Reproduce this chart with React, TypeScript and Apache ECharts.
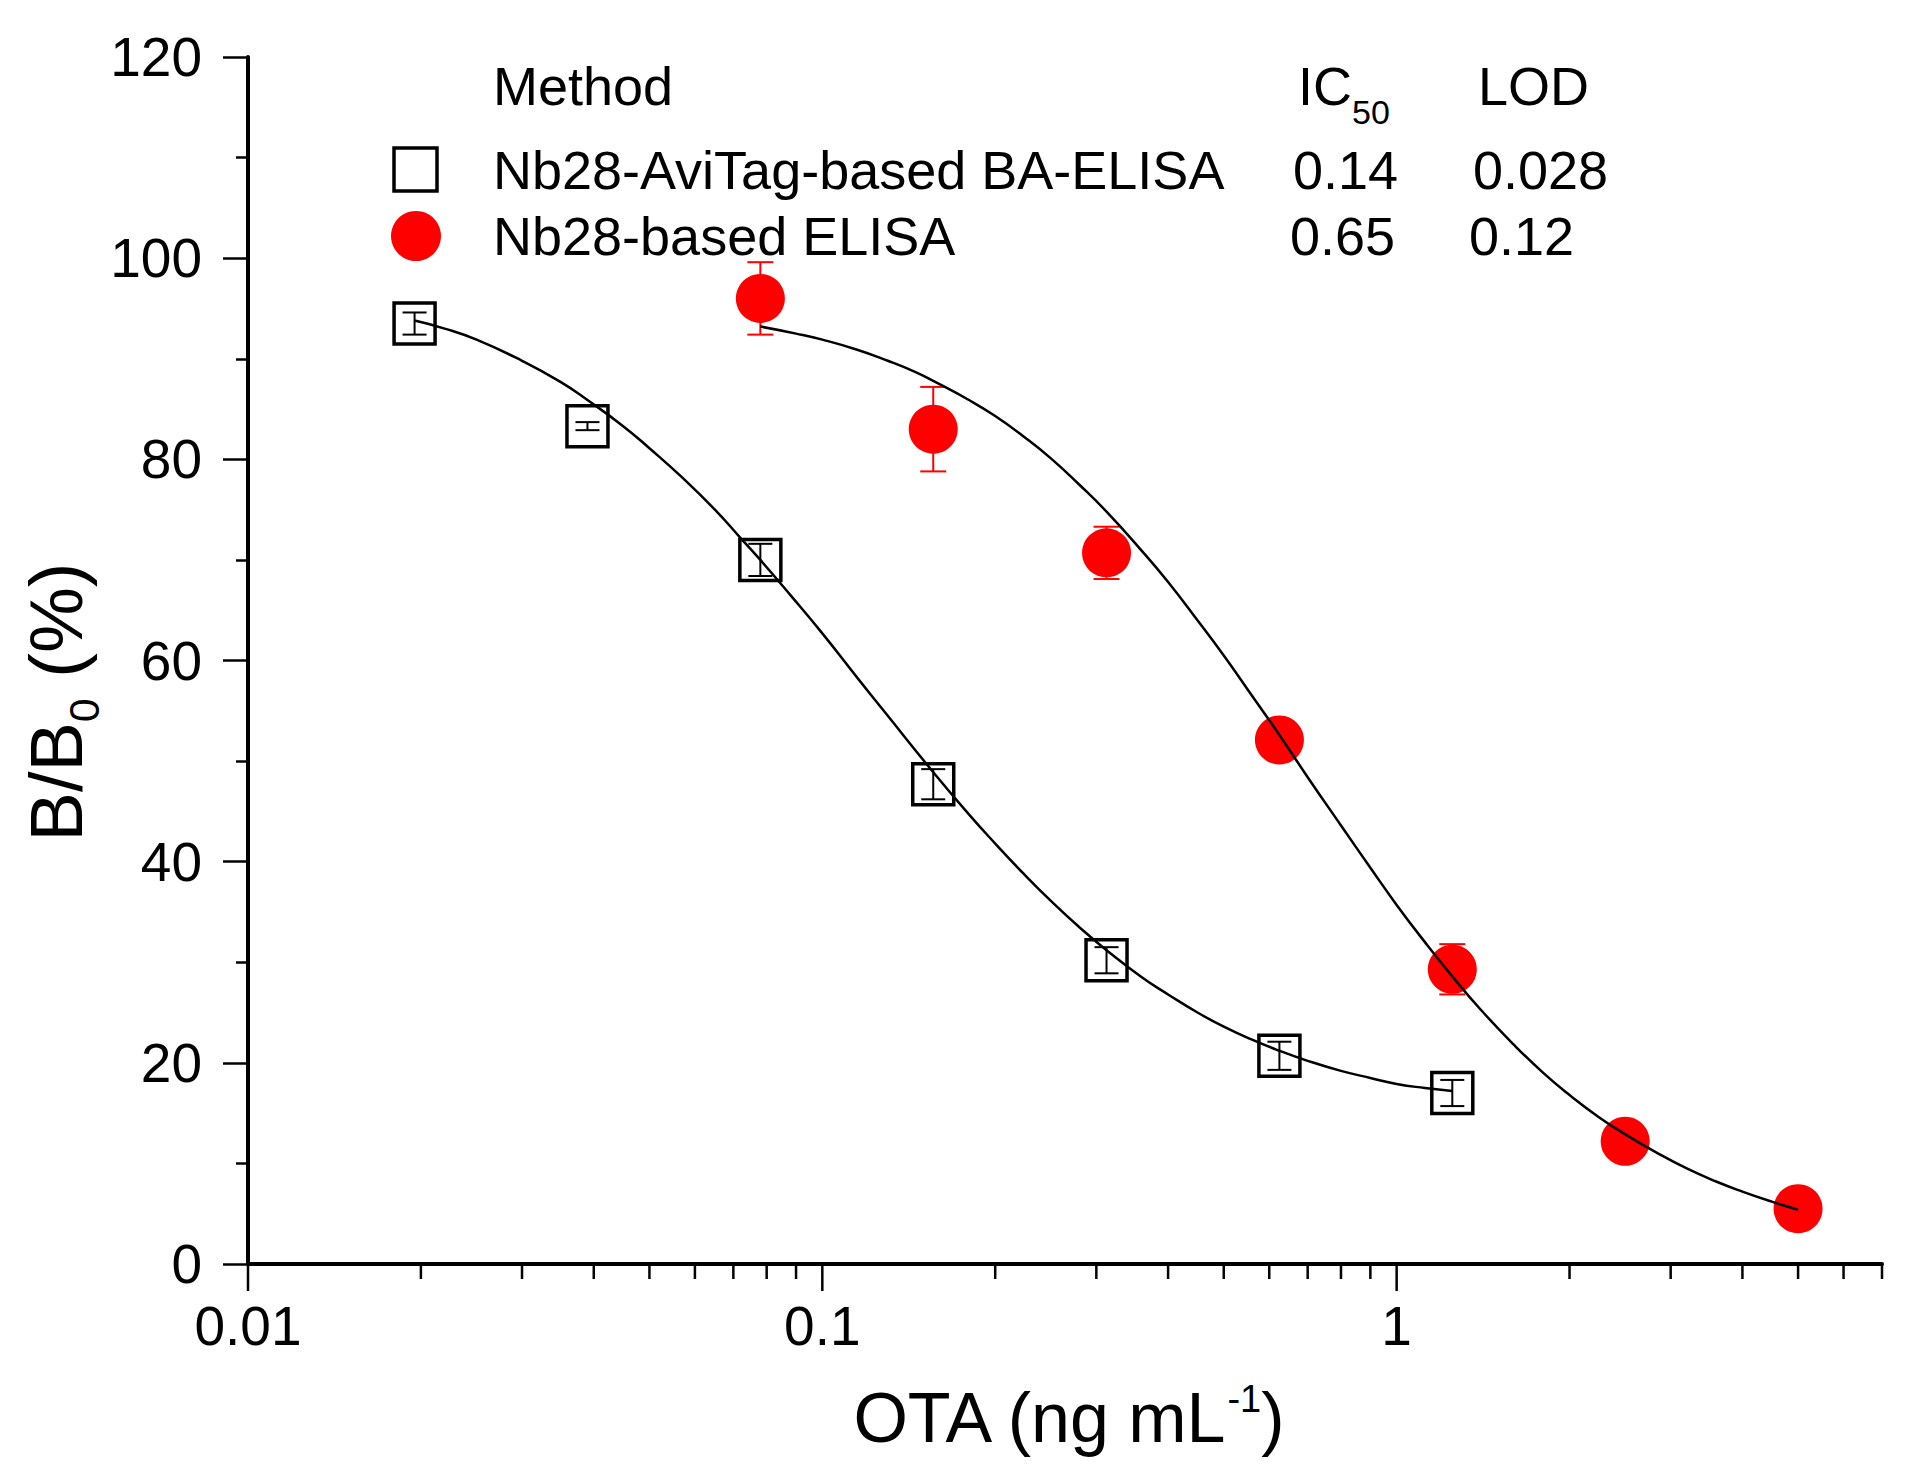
import React, { useEffect, useRef } from "react";
import * as echarts from "echarts";

// ---------- data ----------
const aviTagX = [0.0195, 0.039, 0.078, 0.156, 0.3125, 0.625, 1.25];
const aviTagY = [93.5, 83.3, 70.0, 47.7, 30.2, 20.7, 17.0];
const aviTagErr = [1.1, 0.4, 1.6, 1.5, 1.3, 1.4, 1.3];

const nb28X = [0.078, 0.156, 0.3125, 0.625, 1.25, 2.5, 5];
const nb28Y = [96.0, 83.0, 70.7, 52.1, 29.3, 12.2, 5.5];
const nb28Err = [3.6, 4.2, 2.6, 1.0, 2.5, 1.0, 0.8];

// fitted curves
const aviTagCurveX = [0.0195, 0.022, 0.025, 0.03, 0.035, 0.039, 0.045, 0.05, 0.057, 0.065, 0.072, 0.078, 0.088, 0.1, 0.115, 0.13, 0.156, 0.18, 0.2, 0.225, 0.25, 0.28, 0.3125, 0.36, 0.4, 0.45, 0.5, 0.56, 0.625, 0.7, 0.8, 0.9, 1.0, 1.12, 1.25];
const aviTagCurveY = [93.8, 93.0, 91.9, 89.8, 87.7, 85.9, 83.3, 81.1, 78.2, 75.0, 72.2, 70.0, 66.5, 62.7, 58.3, 54.5, 48.9, 44.7, 41.8, 38.7, 36.1, 33.5, 31.2, 28.5, 26.8, 25.0, 23.6, 22.3, 21.2, 20.2, 19.2, 18.5, 17.9, 17.5, 17.2];

const nb28CurveX = [0.078, 0.09, 0.1, 0.115, 0.13, 0.145, 0.156, 0.18, 0.2, 0.225, 0.25, 0.28, 0.3125, 0.36, 0.4, 0.45, 0.5, 0.56, 0.625, 0.7, 0.8, 0.9, 1.0, 1.12, 1.25, 1.4, 1.6, 1.8, 2.0, 2.25, 2.5, 2.85, 3.2, 3.6, 4.0, 4.5, 5.0];
const nb28CurveY = [93.2, 92.5, 91.9, 90.9, 89.8, 88.7, 87.8, 85.9, 84.3, 82.2, 80.1, 77.5, 74.8, 70.9, 67.8, 64.0, 60.5, 56.5, 52.6, 48.4, 43.6, 39.4, 35.7, 32.0, 28.6, 25.3, 21.8, 19.0, 16.8, 14.6, 12.9, 11.0, 9.5, 8.2, 7.2, 6.2, 5.4];

// axis ticks
const xMajorTicks = [0.01, 0.1, 1];
const xTickLabels = ["0.01", "0.1", "1"];
const xMinorTicks = [
  0.02, 0.03, 0.04, 0.05, 0.06, 0.07, 0.08, 0.09,
  0.2, 0.3, 0.4, 0.5, 0.6, 0.7, 0.8, 0.9,
  2, 3, 4, 5, 6, 7,
];

// legend table
const legendHeader = ["Method", "IC{sub|50}", "LOD"];
const methodNames = ["Nb28-AviTag-based BA-ELISA", "Nb28-based ELISA"];
const ic50Values = ["0.14", "0.65"];
const lodValues = ["0.028", "0.12"];

const FONT = "'Liberation Sans', Arial, Helvetica, sans-serif";

export default function App() {
  const ref = useRef<HTMLDivElement>(null);

  useEffect(() => {
    const chart = echarts.init(ref.current as HTMLDivElement, null, { renderer: "svg" });

    const errorBar = (color: string, capHalf: number, lw: number) => (params: any, api: any) => {
      const x = api.value(0);
      const y = api.value(1);
      const e = api.value(2);
      const hi = api.coord([x, y + e]);
      const lo = api.coord([x, y - e]);
      const style = { stroke: color, lineWidth: lw };
      return {
        type: "group",
        children: [
          { type: "line", shape: { x1: hi[0], y1: hi[1], x2: lo[0], y2: lo[1] }, style },
          { type: "line", shape: { x1: hi[0] - capHalf, y1: hi[1], x2: hi[0] + capHalf, y2: hi[1] }, style },
          { type: "line", shape: { x1: lo[0] - capHalf, y1: lo[1], x2: lo[0] + capHalf, y2: lo[1] }, style },
        ],
      };
    };

    const tickData = [
      ...xMajorTicks.map((v) => [v, 0, 1]),
      ...xMinorTicks.map((v) => [v, 0, 0]),
    ];

    const option: any = {
      animation: false,
      backgroundColor: "#ffffff",
      grid: { left: 248, top: 57, right: 38, bottom: 203, containLabel: false },
      xAxis: {
        type: "log",
        logBase: 10,
        min: 0.01,
        max: 7,
        axisLine: { show: true, onZero: false, lineStyle: { color: "#000", width: 4 } },
        axisTick: { show: false },
        splitLine: { show: false },
        axisLabel: {
          color: "#000",
          fontSize: 55,
          fontFamily: FONT,
          margin: 34,
          showMaxLabel: false,
          formatter: (v: number) => {
            const l = Math.log10(v);
            const r = Math.round(l);
            if (Math.abs(l - r) < 1e-6) {
              const idx = xMajorTicks.findIndex((t) => Math.abs(Math.log10(t) - r) < 1e-6);
              return idx >= 0 ? xTickLabels[idx] : "";
            }
            return "";
          },
        },
      },
      yAxis: {
        type: "value",
        min: 0,
        max: 120,
        interval: 20,
        axisLine: { show: true, lineStyle: { color: "#000", width: 4 } },
        axisTick: { show: true, length: 25, lineStyle: { color: "#000", width: 2.5 } },
        minorTick: { show: true, splitNumber: 2, length: 12, lineStyle: { color: "#000", width: 2.5 } },
        splitLine: { show: false },
        minorSplitLine: { show: false },
        axisLabel: { color: "#000", fontSize: 55, fontFamily: FONT, margin: 46 },
      },
      series: [
        {
          name: "xticks",
          type: "custom",
          clip: false,
          silent: true,
          z: 5,
          encode: { x: 0, y: 1 },
          data: tickData,
          renderItem: (params: any, api: any) => {
            const v = api.value(0);
            const major = api.value(2) === 1;
            const p = api.coord([v, 0]);
            const len = major ? 27 : 15;
            return {
              type: "line",
              shape: { x1: p[0], y1: p[1], x2: p[0], y2: p[1] + len },
              style: { stroke: "#000", lineWidth: 2.5 },
            };
          },
        },
        {
          name: "nb28Err",
          type: "custom",
          z: 1,
          silent: true,
          encode: { x: 0, y: 1 },
          data: nb28X.map((x, i) => [x, nb28Y[i], nb28Err[i]]),
          renderItem: errorBar("#ff0000", 13, 2),
        },
        {
          name: methodNames[1],
          type: "scatter",
          z: 2,
          symbol: "circle",
          symbolSize: 49,
          itemStyle: { color: "#ff0000", opacity: 1 },
          data: nb28X.map((x, i) => [x, nb28Y[i]]),
        },
        {
          name: methodNames[0],
          type: "scatter",
          z: 2,
          symbol: "rect",
          symbolSize: 41,
          itemStyle: { color: "rgba(0,0,0,0)", borderColor: "#000", borderWidth: 3.5, opacity: 1 },
          data: aviTagX.map((x, i) => [x, aviTagY[i]]),
        },
        {
          name: "aviTagErr",
          type: "custom",
          z: 3,
          silent: true,
          encode: { x: 0, y: 1 },
          data: aviTagX.map((x, i) => [x, aviTagY[i], aviTagErr[i]]),
          renderItem: errorBar("#000", 12, 2),
        },
        {
          name: "aviTagFit",
          type: "line",
          z: 4,
          smooth: true,
          symbol: "none",
          silent: true,
          lineStyle: { color: "#000", width: 2.5 },
          data: aviTagCurveX.map((x, i) => [x, aviTagCurveY[i]]),
        },
        {
          name: "nb28Fit",
          type: "line",
          z: 4,
          smooth: true,
          symbol: "none",
          silent: true,
          lineStyle: { color: "#000", width: 2.5 },
          data: nb28CurveX.map((x, i) => [x, nb28CurveY[i]]),
        },
      ],
      graphic: [
        // axis titles
        {
          type: "text",
          x: 1068,
          y: 1418,
          style: {
            text: "OTA (ng mL{sup|-1})",
            fontSize: 70,
            fontFamily: FONT,
            fill: "#000",
            align: "center",
            verticalAlign: "middle",
            lineHeight: 76,
            rich: {
              sup: { fontSize: 38, fontFamily: FONT, fill: "#000", lineHeight: 62, verticalAlign: "top" },
            },
          },
        },
        {
          type: "text",
          x: 56,
          y: 702,
          rotation: Math.PI / 2,
          style: {
            text: "B/B{sub|0} (%)",
            fontSize: 74,
            fontFamily: FONT,
            fill: "#000",
            align: "center",
            verticalAlign: "middle",
            lineHeight: 98,
            rich: {
              sub: { fontSize: 43, fontFamily: FONT, fill: "#000", lineHeight: 20, verticalAlign: "bottom" },
            },
          },
        },
        // legend table header
        {
          type: "text",
          x: 493,
          y: 86,
          style: { text: legendHeader[0], fontSize: 54, fontFamily: FONT, fill: "#000", align: "left", verticalAlign: "middle" },
        },
        {
          type: "text",
          x: 1298,
          y: 86,
          style: {
            text: legendHeader[1],
            fontSize: 54,
            fontFamily: FONT,
            fill: "#000",
            align: "left",
            verticalAlign: "middle",
            lineHeight: 86,
            rich: {
              sub: { fontSize: 34, fontFamily: FONT, fill: "#000", lineHeight: 20, verticalAlign: "bottom" },
            },
          },
        },
        {
          type: "text",
          x: 1478,
          y: 86,
          style: { text: legendHeader[2], fontSize: 54, fontFamily: FONT, fill: "#000", align: "left", verticalAlign: "middle" },
        },
        // legend row 1
        {
          type: "rect",
          shape: { x: 394, y: 148, width: 43, height: 43 },
          style: { fill: "none", stroke: "#000", lineWidth: 3.5 },
        },
        {
          type: "text",
          x: 493,
          y: 170,
          style: { text: methodNames[0], fontSize: 54, fontFamily: FONT, fill: "#000", align: "left", verticalAlign: "middle" },
        },
        {
          type: "text",
          x: 1293,
          y: 170,
          style: { text: ic50Values[0], fontSize: 54, fontFamily: FONT, fill: "#000", align: "left", verticalAlign: "middle" },
        },
        {
          type: "text",
          x: 1473,
          y: 170,
          style: { text: lodValues[0], fontSize: 54, fontFamily: FONT, fill: "#000", align: "left", verticalAlign: "middle" },
        },
        // legend row 2
        {
          type: "circle",
          shape: { cx: 416, cy: 236, r: 25 },
          style: { fill: "#ff0000" },
        },
        {
          type: "text",
          x: 493,
          y: 236,
          style: { text: methodNames[1], fontSize: 54, fontFamily: FONT, fill: "#000", align: "left", verticalAlign: "middle" },
        },
        {
          type: "text",
          x: 1290,
          y: 236,
          style: { text: ic50Values[1], fontSize: 54, fontFamily: FONT, fill: "#000", align: "left", verticalAlign: "middle" },
        },
        {
          type: "text",
          x: 1469,
          y: 236,
          style: { text: lodValues[1], fontSize: 54, fontFamily: FONT, fill: "#000", align: "left", verticalAlign: "middle" },
        },
      ],
    };

    chart.setOption(option);
    return () => {
      chart.dispose();
    };
  }, []);

  return (
    <div
      ref={ref}
      style={{ position: "absolute", left: 0, top: 0, width: 1920, height: 1467, background: "#fff" }}
    />
  );
}
